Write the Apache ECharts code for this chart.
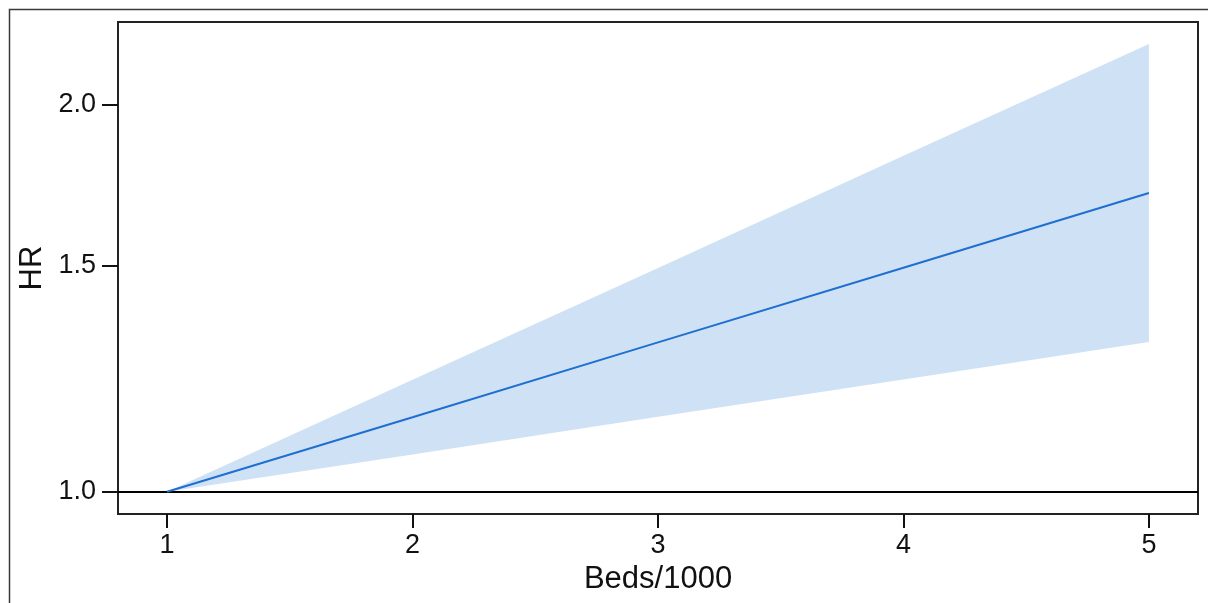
<!DOCTYPE html>
<html>
<head>
<meta charset="utf-8">
<script src="https://cdn.jsdelivr.net/npm/echarts@6/dist/echarts.min.js"></script>
<style>
html,body{margin:0;padding:0;background:#fff;}
#c{width:1208px;height:603px;}
</style>
</head>
<body>
<div id="c"></div>
<script>
// Data
const bedsX = [1, 2, 3, 4, 5];
const hrFit = [1.0, 1.143, 1.307, 1.494, 1.708];
const hrLower = [1.0, 1.069, 1.144, 1.223, 1.308];
const hrUpper = [1.0, 1.222, 1.493, 1.826, 2.23];
const xTicks = [1, 2, 3, 4, 5];
const yTicks = [1.0, 1.5, 2.0];
const refHR = 1.0;

const bandPts = bedsX.map((x, i) => [x, hrLower[i], hrUpper[i]]);
const fitPts = bedsX.map((x, i) => [x, hrFit[i]]);

const font = "'Liberation Sans', Arial, Helvetica, sans-serif";
const chart = echarts.init(document.getElementById('c'), null, {renderer: 'canvas'});
chart.setOption({
  animation: false,
  backgroundColor: '#fff',
  graphic: [{
    type: 'rect', silent: true, z: 100,
    shape: {x: 9.5, y: 9.5, width: 1400, height: 800},
    style: {fill: 'none', stroke: '#3a3a3a', lineWidth: 1.5}
  }],
  grid: {left: 118, top: 22, right: 10, bottom: 89, show: true,
         borderColor: '#222', borderWidth: 2, backgroundColor: 'transparent'},
  xAxis: {
    type: 'value', min: 0.8, max: 5.2,
    name: 'Beds/1000', nameLocation: 'middle', nameGap: 43,
    nameTextStyle: {fontFamily: font, fontSize: 31, color: '#111'},
    axisLine: {show: false},
    axisTick: {show: true, inside: false, length: 14, customValues: xTicks,
               lineStyle: {color: '#111', width: 2}},
    axisLabel: {customValues: xTicks, margin: 18, fontFamily: font, fontSize: 27, color: '#111',
                formatter: v => String(v)},
    splitLine: {show: false}
  },
  yAxis: {
    type: 'log', min: 0.961, max: 2.32, logBase: 10,
    name: 'HR', nameLocation: 'middle', nameGap: 66,
    nameTextStyle: {fontFamily: font, fontSize: 31, color: '#111'},
    axisLine: {show: false},
    axisTick: {show: true, inside: false, length: 16, customValues: yTicks,
               lineStyle: {color: '#111', width: 2}},
    axisLabel: {customValues: yTicks, margin: 22, fontFamily: font, fontSize: 27, color: '#111',
                formatter: v => Number(v).toFixed(1)},
    splitLine: {show: false},
    minorTick: {show: false}
  },
  series: [
    {
      type: 'custom', silent: true, z: 1,
      data: bandPts,
      encode: {x: 0, y: [1, 2]},
      renderItem: function (params, api) {
        if (params.dataIndex !== 0) return null;
        const top = [], bot = [];
        for (let i = 0; i < bandPts.length; i++) {
          top.push(api.coord([bandPts[i][0], bandPts[i][2]]));
          bot.push(api.coord([bandPts[i][0], bandPts[i][1]]));
        }
        return {
          type: 'polygon',
          shape: {points: top.concat(bot.reverse())},
          style: {fill: '#cfe2f5', stroke: 'none'}
        };
      }
    },
    {
      type: 'line', data: fitPts, symbol: 'none', z: 5,
      lineStyle: {color: '#1f6fd1', width: 2},
      markLine: {
        silent: true, symbol: 'none', label: {show: false},
        lineStyle: {color: '#000', width: 2, type: 'solid'},
        data: [{yAxis: refHR}]
      }
    }
  ]
});
</script>
</body>
</html>
